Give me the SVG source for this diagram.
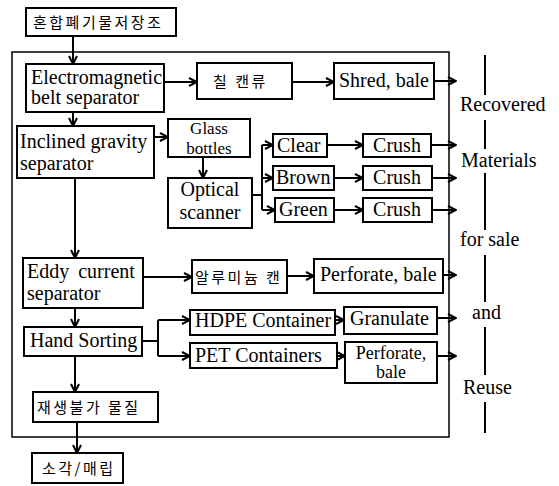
<svg xmlns="http://www.w3.org/2000/svg" width="559" height="486" viewBox="0 0 559 486">
<style>
.b{fill:#fff;stroke:#000;stroke-width:2}
.o{fill:none;stroke:#000;stroke-width:1.5}
.t{font-family:"Liberation Serif","Times New Roman","DejaVu Serif",serif;font-size:20px;fill:#000}
.s{font-size:18px}
.g{font-size:17px}
.c{text-anchor:middle}
.k{font-family:"Noto Sans CJK KR","Noto Sans",sans-serif;font-size:15px;letter-spacing:2.5px;fill:#000}
.l{fill:none;stroke:#000;stroke-width:2}
.a{fill:none;stroke:#000;stroke-width:2;marker-end:url(#ar)}
</style>
<defs>
<marker id="ar" viewBox="0 0 10 10" refX="9" refY="5" markerWidth="10" markerHeight="10" markerUnits="userSpaceOnUse" orient="auto">
<path d="M1,1 L9,5 L1,9" fill="none" stroke="#000" stroke-width="2"/>
</marker>
</defs>
<rect class="o" x="12" y="52" width="437" height="385"/>
<g id="connectors">
<path class="a" d="M73,36 V64"/>
<path class="a" d="M164,82 H197"/>
<path class="a" d="M292,82 H334"/>
<path class="a" d="M434,81 H456"/>
<path class="a" d="M73,112 V126"/>
<path class="a" d="M154,137 H168"/>
<path class="a" d="M203,157 V178"/>
<path class="l" d="M252,195 H262 M262,145 V210"/>
<path class="a" d="M262,145 H273"/>
<path class="a" d="M262,178 H273"/>
<path class="a" d="M262,210 H275"/>
<path class="a" d="M327,145 H363"/>
<path class="a" d="M334,178 H363"/>
<path class="a" d="M334,210 H363"/>
<path class="a" d="M431,145 H456"/>
<path class="a" d="M432,178 H456"/>
<path class="a" d="M432,210 H456"/>
<path class="a" d="M75,178 V258"/>
<path class="a" d="M143,277 H192"/>
<path class="a" d="M287,276 H314"/>
<path class="a" d="M443,275 H456"/>
<path class="a" d="M75,308 V327"/>
<path class="l" d="M142,341 H158 M158,320 V356"/>
<path class="a" d="M158,320 H190"/>
<path class="a" d="M158,356 H190"/>
<path class="a" d="M335,320 H344"/>
<path class="a" d="M437,318 H456"/>
<path class="a" d="M337,356 H345"/>
<path class="a" d="M437,356 H456"/>
<path class="a" d="M75,356 V392"/>
<path class="a" d="M77,422 V453"/>
</g>
<g id="n-storage"><rect class="b" x="26" y="8" width="150" height="28"/><text class="k" x="33" y="28">혼합폐기물저장조</text></g>
<g id="n-em"><rect class="b" x="26" y="64" width="138" height="48"/><text class="t" x="31" y="84">Electromagnetic</text><text class="t" x="31" y="104">belt separator</text></g>
<g id="n-steel"><rect class="b" x="197" y="63" width="95" height="36"/><text class="k" x="213" y="87">칠 캔류</text></g>
<g id="n-shred"><rect class="b" x="334" y="63" width="100" height="36"/><text class="t" x="339" y="87">Shred, bale</text></g>
<g id="n-incl"><rect class="b" x="17" y="126" width="137" height="52"/><text class="t" x="20" y="148">Inclined gravity</text><text class="t" x="20" y="170">separator</text></g>
<g id="n-glass"><rect class="b" x="168" y="119" width="82" height="38"/><text class="t g c" x="209" y="134">Glass</text><text class="t g c" x="209" y="154">bottles</text></g>
<g id="n-optical"><rect class="b" x="168" y="178" width="84" height="50"/><text class="t c" x="210" y="196">Optical</text><text class="t c" x="210" y="219">scanner</text></g>
<g id="n-clear"><rect class="b" x="273" y="134" width="54" height="23"/><text class="t" x="277" y="152">Clear</text></g>
<g id="n-crush1"><rect class="b" x="363" y="134" width="68" height="23"/><text class="t c" x="397" y="152">Crush</text></g>
<g id="n-brown"><rect class="b" x="273" y="166" width="61" height="24"/><text class="t" x="276" y="184">Brown</text></g>
<g id="n-crush2"><rect class="b" x="363" y="166" width="69" height="24"/><text class="t c" x="397" y="184">Crush</text></g>
<g id="n-green"><rect class="b" x="275" y="198" width="59" height="24"/><text class="t" x="279" y="216">Green</text></g>
<g id="n-crush3"><rect class="b" x="363" y="198" width="69" height="24"/><text class="t c" x="397" y="216">Crush</text></g>
<g id="n-eddy"><rect class="b" x="23" y="258" width="120" height="50"/><text class="t" x="27" y="278" word-spacing="4">Eddy current</text><text class="t" x="27" y="300">separator</text></g>
<g id="n-alu"><rect class="b" x="192" y="260" width="95" height="33"/><text class="k" x="195" y="283" letter-spacing="1.5">알루미늄 캔</text></g>
<g id="n-perf1"><rect class="b" x="314" y="259" width="129" height="34"/><text class="t" x="320" y="281">Perforate, bale</text></g>
<g id="n-hand"><rect class="b" x="24" y="327" width="118" height="29"/><text class="t" x="30" y="347">Hand Sorting</text></g>
<g id="n-hdpe"><rect class="b" x="190" y="310" width="145" height="25"/><text class="t" x="195" y="327">HDPE Container</text></g>
<g id="n-gran"><rect class="b" x="344" y="307" width="93" height="27"/><text class="t" x="350" y="325">Granulate</text></g>
<g id="n-pet"><rect class="b" x="190" y="343" width="147" height="25"/><text class="t" x="195" y="362">PET Containers</text></g>
<g id="n-perf2"><rect class="b" x="345" y="342" width="92" height="41"/><text class="t s c" x="391" y="359">Perforate,</text><text class="t s c" x="391" y="378">bale</text></g>
<g id="n-nonrec"><rect class="b" x="33" y="392" width="125" height="30"/><text class="k" x="37" y="413">재생불가 물질</text></g>
<g id="n-incin"><rect class="b" x="32" y="453" width="91" height="30"/><text class="k" x="42" y="474">소각/매립</text></g>
<g id="legend">
<path class="l" d="M485,55 V95 M485,120 V149 M485,173 V230 M485,255 V302 M485,327 V375 M485,402 V433"/>
<text class="t" x="460" y="111">Recovered</text>
<text class="t" x="461" y="167">Materials</text>
<text class="t" x="460" y="246">for sale</text>
<text class="t" x="472" y="319">and</text>
<text class="t" x="463" y="394">Reuse</text>
</g>
</svg>
